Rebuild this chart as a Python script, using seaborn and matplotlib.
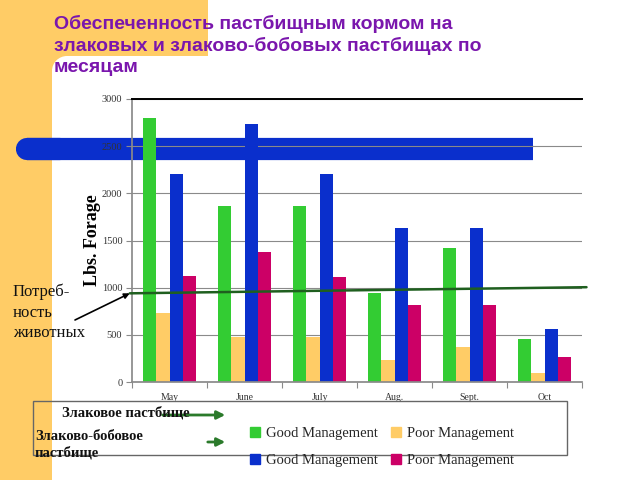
import numpy as np
import pandas as pd
import seaborn as sns
import matplotlib
matplotlib.use("Agg")
import matplotlib.pyplot as plt
import matplotlib.transforms as mtransforms
from matplotlib.patches import Rectangle, Ellipse, FancyArrowPatch

# ── data ─────────────────────────────────────
MONTHS = ["May", "June", "July", "Aug.", "Sept.", "Oct"]
GRASS_GOOD = [2800, 1870, 1870, 940, 1420, 460]
GRASS_POOR = [730, 480, 480, 230, 370, 95]
MIX_GOOD = [2210, 2740, 2210, 1630, 1630, 560]
MIX_POOR = [1120, 1375, 1110, 815, 815, 262]
REQUIREMENT = [940, 1005]          # animal need line, left -> right
Y_TICKS = [0, 500, 1000, 1500, 2000, 2500, 3000]
HIGHLIGHT_Y = 2470                 # blue band level

SERIES = ["grass_good", "grass_poor", "mix_good", "mix_poor"]
LEGEND_LABELS = ["Good Management", "Poor Management", "Good Management", "Poor Management"]
COLORS = ["#33cc33", "#ffcc66", "#0a2fcc", "#cc0066"]

ORANGE = "#ffcc66"
TITLE_COLOR = "#7a16ad"
ARROW_GREEN = "#2b7a2b"

df = pd.DataFrame({
    "month": MONTHS * 4,
    "series": np.repeat(SERIES, len(MONTHS)),
    "value": GRASS_GOOD + GRASS_POOR + MIX_GOOD + MIX_POOR,
})

sns.set_theme(style="white")
plt.rcParams["font.family"] = ["Liberation Serif", "DejaVu Serif"]

fig = plt.figure(figsize=(6.4, 4.8), dpi=100)
fig.patch.set_facecolor("white")

# orange page decoration
fig.add_artist(Rectangle((0, 0), 52 / 640, 1, transform=fig.transFigure,
                         color=ORANGE, lw=0, zorder=-5))
fig.add_artist(Rectangle((0, 1 - 56 / 480), 208 / 640, 56 / 480,
                         transform=fig.transFigure, color=ORANGE, lw=0, zorder=-5))
fig.add_artist(Rectangle((52 / 640, 1 - 71 / 480), 15 / 640, 15 / 480,
                         transform=fig.transFigure, color=ORANGE, lw=0, zorder=-5))
fig.add_artist(Ellipse((67 / 640, 1 - 71 / 480), 30 / 640, 30 / 480,
                       transform=fig.transFigure, color="white", lw=0, zorder=-4))

ax = fig.add_axes([132 / 640, 1 - 382 / 480, 450 / 640, 283 / 480])
ax.set_facecolor("none")

sns.barplot(data=df, x="month", y="value", hue="series", order=MONTHS,
            hue_order=SERIES, palette=COLORS, saturation=1, width=0.7, gap=0,
            linewidth=0, legend=False, ax=ax)
for p in ax.patches:
    p.set_zorder(2)

ax.set_ylim(0, 3000)
ax.set_xlim(-0.5, len(MONTHS) - 0.5)
ax.set_yticks(Y_TICKS)
ax.set_yticklabels([str(t) for t in Y_TICKS], fontsize=7.5, color="#333333")
ax.set_xticklabels(MONTHS, fontsize=7, color="#333333")
ax.set_xlabel("")
ax.set_ylabel("Lbs. Forage", fontsize=13, fontweight="bold", color="black")
ax.yaxis.set_label_coords(-0.069, 0.5)

ax.set_axisbelow(True)
ax.yaxis.grid(True, color="#8a8a8a", lw=0.8)
ax.xaxis.grid(False)
ax.spines["right"].set_visible(False)
ax.spines["top"].set_color("black")
ax.spines["top"].set_linewidth(1.4)
ax.spines["left"].set_color("#8a8a8a")
ax.spines["bottom"].set_color("#8a8a8a")
ax.tick_params(axis="y", left=True, length=4, width=0.8, color="#8a8a8a", pad=3)
ax.tick_params(axis="x", bottom=False, pad=2)
ax.set_xticks(np.arange(len(MONTHS) + 1) - 0.5, minor=True)
ax.tick_params(axis="x", which="minor", bottom=True, length=4, width=0.8, color="#8a8a8a")

# blue highlight band across the chart (behind the bars)
band_tr = mtransforms.blended_transform_factory(fig.transFigure, ax.transData)
ax.plot([27 / 640, 533 / 640], [HIGHLIGHT_Y] * 2, transform=band_tr, color="#0a2fcc",
        lw=16, solid_capstyle="butt", clip_on=False, zorder=0.3)
ax.plot([27 / 640, 60 / 640], [HIGHLIGHT_Y] * 2, transform=band_tr, color="#0a2fcc",
        lw=16, solid_capstyle="round", clip_on=False, zorder=0.3)
ax.plot([130 / 640, 533 / 640], [2500] * 2, transform=band_tr, color="#001a80",
        lw=0.8, clip_on=False, zorder=0.35)

# animal requirement line
req_tr = mtransforms.blended_transform_factory(ax.transAxes, ax.transData)
ax.plot([-0.005, 1.01], REQUIREMENT, transform=req_tr, color="#1f5f1f", lw=1.8,
        clip_on=False, zorder=3)
ax.annotate("", xy=(-0.005, REQUIREMENT[0]), xycoords=req_tr,
            xytext=(75 / 640, 1 - 320 / 480), textcoords="figure fraction",
            arrowprops=dict(arrowstyle="-|>", color="black", lw=1.2,
                            mutation_scale=8, shrinkA=0, shrinkB=0))
fig.text(13 / 640, 1 - 284 / 480, "Потреб-\nность\nживотных", fontsize=12,
         va="top", ha="left", linespacing=1.35, color="#111111")

# title
fig.text(54 / 640, 1 - 15 / 480,
         "Обеспеченность пастбищным кормом на\nзлаковых и злаково-бобовых пастбищах по\nмесяцам",
         fontsize=14, fontweight="bold", color=TITLE_COLOR, va="top", ha="left",
         linespacing=1.3, family=["Liberation Sans", "DejaVu Sans"])

# legend frame and labels
fig.add_artist(Rectangle((33 / 640, 1 - 455 / 480), 534 / 640, 54 / 480,
                         transform=fig.transFigure, fill=False, ec="#666666", lw=1))
fig.text(62 / 640, 1 - 413 / 480, "Злаковое пастбище", fontsize=10.5,
         fontweight="bold", va="center", ha="left", color="#111111")
fig.text(35 / 640, 1 - 445 / 480, "Злаково-бобовое\nпастбище", fontsize=10.5,
         fontweight="bold", va="center", ha="left", color="#111111", linespacing=1.3)
for x0, y0 in [(160, 415), (205, 442)]:
    fig.add_artist(FancyArrowPatch(
        (x0 / 640, 1 - y0 / 480), (228 / 640, 1 - y0 / 480),
        transform=fig.transFigure, arrowstyle="-|>", mutation_scale=12,
        color=ARROW_GREEN, lw=2))

handles = [Rectangle((0, 0), 1, 1, color=c) for c in COLORS]
order = [0, 2, 1, 3]
fig.legend([handles[i] for i in order], [LEGEND_LABELS[i] for i in order],
           ncol=2, loc="upper left", bbox_to_anchor=(250 / 640, 1 - 427 / 480),
           frameon=False, fontsize=10.5, borderpad=0, borderaxespad=0,
           handlelength=0.7, handleheight=0.7, handletextpad=0.4,
           columnspacing=0.9, labelspacing=0.95)

fig.savefig("out.png", dpi=100)
